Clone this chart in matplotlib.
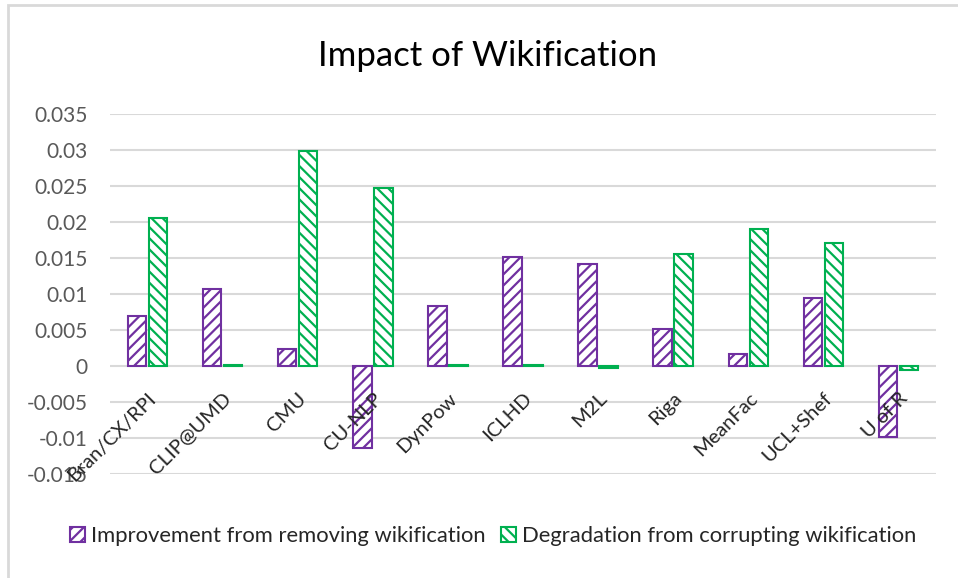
import matplotlib
matplotlib.use("Agg")
import matplotlib.pyplot as plt
from matplotlib.patches import Rectangle, Patch
import numpy as np

plt.rcParams['font.family'] = ['Lato', 'DejaVu Sans']
plt.rcParams['hatch.linewidth'] = 1.6

categories = ["Bran/CX/RPI", "CLIP@UMD", "CMU", "CU-NLP", "DynPow", "ICLHD",
              "M2L", "Riga", "MeanFac", "UCL+Shef", "U of R"]
improvement = [0.0069, 0.0107, 0.0024, -0.0114, 0.0084, 0.0151,
               0.0141, 0.0052, 0.0016, 0.0094, -0.0099]
degradation = [0.0205, 0.0002, 0.0299, 0.0247, 0.0002, 0.0002,
               -0.0003, 0.0155, 0.0190, 0.0171, -0.0006]
yticks = [-0.015, -0.01, -0.005, 0, 0.005, 0.01, 0.015, 0.02, 0.025, 0.03, 0.035]
ytick_labels = ["-0.015", "-0.01", "-0.005", "0", "0.005", "0.01", "0.015",
                "0.02", "0.025", "0.03", "0.035"]
series_names = ["Improvement from removing wikification",
                "Degradation from corrupting wikification"]
title = "Impact of Wikification"

purple = "#7030A0"
green = "#00B050"
grid_c = "#D9D9D9"
text_c = "#595959"

fig = plt.figure(figsize=(9.58, 5.78), dpi=100)
fig.patches.append(Rectangle((8/958, -0.1), 1.2, 1 - 5/578 + 0.1,
                             transform=fig.transFigure, fill=False,
                             edgecolor=grid_c, linewidth=2.0))
ax = fig.add_axes([110/958, 1 - 474/578, 826/958, 360/578])

x = np.arange(len(categories))
w = 0.245
off = 0.14
ax.bar(x - off, improvement, w, facecolor="white", edgecolor=purple,
       hatch="///", linewidth=1.5, zorder=3)
ax.bar(x + off, degradation, w, facecolor="white", edgecolor=green,
       hatch="\\\\\\", linewidth=1.5, zorder=3)

ax.set_xlim(-0.5, len(categories) - 0.5)
ax.set_ylim(-0.015, 0.035)
ax.set_yticks(yticks)
ax.set_yticklabels(ytick_labels, fontsize=15, color=text_c)
ax.tick_params(axis='y', length=0, pad=16)
ax.set_xticks([])
for s in ax.spines.values():
    s.set_visible(False)
ax.yaxis.grid(True, color=grid_c, linewidth=1.5, zorder=0)
ax.set_axisbelow(True)

for i, c in enumerate(categories):
    ax.annotate(c, xy=(i, 0), xycoords='data', xytext=(0, -17),
                textcoords='offset points', rotation=45,
                rotation_mode='anchor', ha='right', va='top',
                fontsize=14.5, color="#262626", zorder=5)

fig.text(488/958, 1 - 56/578, title, ha='center', va='center',
         fontsize=25, color="#000000")

handles = [Patch(facecolor="white", edgecolor=purple, hatch="///", linewidth=1.5),
           Patch(facecolor="white", edgecolor=green, hatch="\\\\\\", linewidth=1.5)]
fig.legend(handles, series_names, loc='center', bbox_to_anchor=(493/958, 1 - 536/578),
           ncol=2, frameon=False, fontsize=15.8, handlelength=0.7, handleheight=0.7,
           handletextpad=0.25, columnspacing=0.7, labelcolor="#262626")

fig.savefig("out.png", dpi=100)
